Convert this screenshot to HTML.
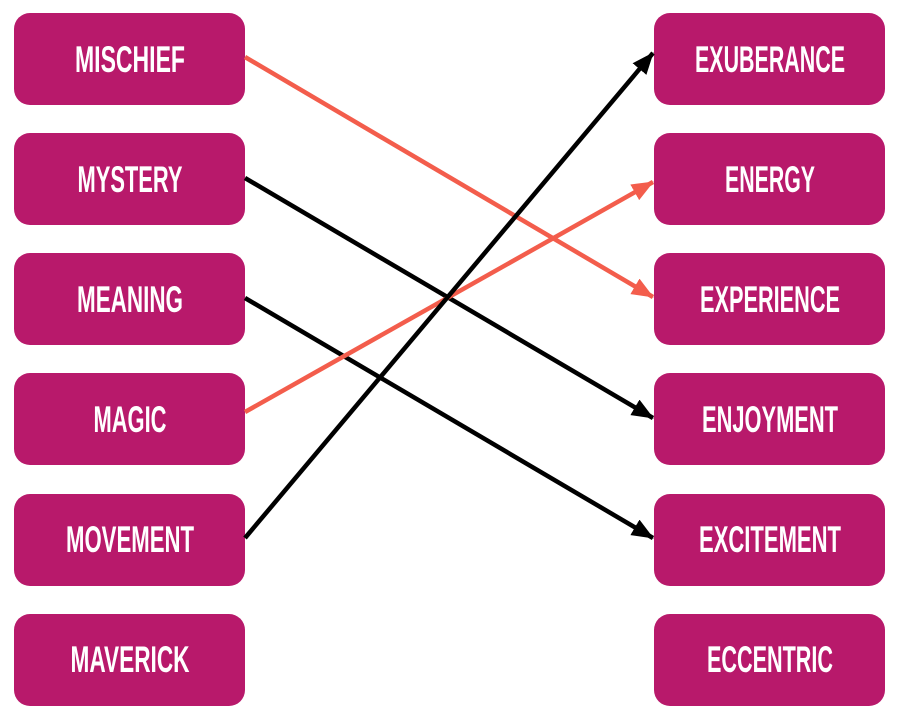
<!DOCTYPE html>
<html><head><meta charset="utf-8"><style>html,body{margin:0;padding:0;background:#fff}</style></head>
<body>
<svg width="900" height="723" viewBox="0 0 900 723" xmlns="http://www.w3.org/2000/svg">
<defs>
<marker id="ab" markerWidth="22" markerHeight="18" refX="21" refY="9" orient="auto" markerUnits="userSpaceOnUse" viewBox="0 0 22 18"><path d="M0,0 L22,9 L0,18 z" fill="#000"/></marker>
<marker id="ar" markerWidth="22" markerHeight="18" refX="21" refY="9" orient="auto" markerUnits="userSpaceOnUse" viewBox="0 0 22 18"><path d="M0,0 L22,9 L0,18 z" fill="#F35D4C"/></marker>
</defs>
<g fill="#B8196B">
<rect x="14" y="13" width="231" height="92" rx="16"/>
<rect x="14" y="133" width="231" height="92" rx="16"/>
<rect x="14" y="253" width="231" height="92" rx="16"/>
<rect x="14" y="373" width="231" height="92" rx="16"/>
<rect x="14" y="494" width="231" height="92" rx="16"/>
<rect x="14" y="614" width="231" height="92" rx="16"/>
<rect x="654" y="13" width="231" height="92" rx="16"/>
<rect x="654" y="133" width="231" height="92" rx="16"/>
<rect x="654" y="253" width="231" height="92" rx="16"/>
<rect x="654" y="373" width="231" height="92" rx="16"/>
<rect x="654" y="494" width="231" height="92" rx="16"/>
<rect x="654" y="614" width="231" height="92" rx="16"/>
</g>
<g fill="#fff" font-family="'Liberation Sans Narrow','Liberation Sans',sans-serif" font-weight="bold" font-size="37" text-anchor="middle">
<text x="130" y="72" textLength="110" lengthAdjust="spacingAndGlyphs">MISCHIEF</text>
<text x="130" y="192" textLength="105" lengthAdjust="spacingAndGlyphs">MYSTERY</text>
<text x="130" y="312" textLength="106" lengthAdjust="spacingAndGlyphs">MEANING</text>
<text x="130" y="432" textLength="73" lengthAdjust="spacingAndGlyphs">MAGIC</text>
<text x="130" y="552" textLength="128" lengthAdjust="spacingAndGlyphs">MOVEMENT</text>
<text x="130" y="672" textLength="119" lengthAdjust="spacingAndGlyphs">MAVERICK</text>
<text x="770" y="72" textLength="150" lengthAdjust="spacingAndGlyphs">EXUBERANCE</text>
<text x="770" y="192" textLength="90" lengthAdjust="spacingAndGlyphs">ENERGY</text>
<text x="770" y="312" textLength="140" lengthAdjust="spacingAndGlyphs">EXPERIENCE</text>
<text x="770" y="432" textLength="136" lengthAdjust="spacingAndGlyphs">ENJOYMENT</text>
<text x="770" y="552" textLength="142" lengthAdjust="spacingAndGlyphs">EXCITEMENT</text>
<text x="770" y="672" textLength="126" lengthAdjust="spacingAndGlyphs">ECCENTRIC</text>
</g>
<g stroke-width="4.5" fill="none">
<line x1="245" y1="57" x2="653" y2="297" stroke="#F35D4C" marker-end="url(#ar)"/>
<line x1="245" y1="178" x2="653" y2="418" stroke="#000" marker-end="url(#ab)"/>
<line x1="245" y1="298" x2="653" y2="538" stroke="#000" marker-end="url(#ab)"/>
<line x1="245" y1="412" x2="653" y2="182" stroke="#F35D4C" marker-end="url(#ar)"/>
<line x1="245" y1="538" x2="653" y2="53" stroke="#000" marker-end="url(#ab)"/>
</g>
</svg>
</body></html>
